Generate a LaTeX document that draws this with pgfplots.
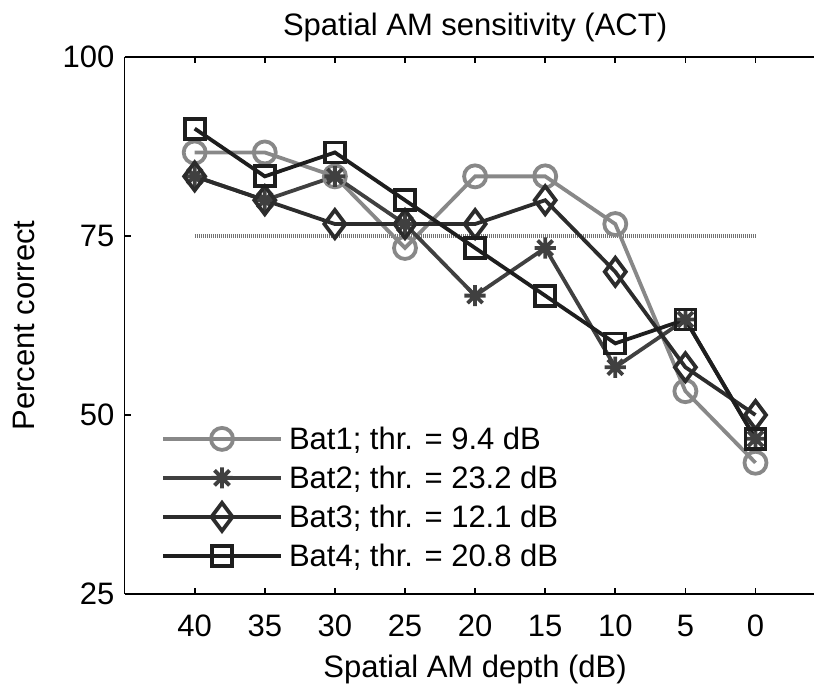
\documentclass[border=0pt]{standalone}
\usepackage{fontspec}
\setmainfont{Liberation Sans}
\usepackage{pgfplots}
\pgfplotsset{compat=1.18}
\definecolor{batA}{RGB}{136,136,136}
\definecolor{batB}{RGB}{64,64,64}
\definecolor{batC}{RGB}{44,44,44}
\definecolor{batD}{RGB}{30,30,30}
% MATLAB-style asterisk: + and x together
\pgfdeclareplotmark{ast8}{%
  \pgfpathmoveto{\pgfqpoint{0pt}{\pgfplotmarksize}}%
  \pgfpathlineto{\pgfqpoint{0pt}{-\pgfplotmarksize}}%
  \pgfpathmoveto{\pgfqpoint{\pgfplotmarksize}{0pt}}%
  \pgfpathlineto{\pgfqpoint{-\pgfplotmarksize}{0pt}}%
  \pgfpathmoveto{\pgfqpoint{.7071\pgfplotmarksize}{.7071\pgfplotmarksize}}%
  \pgfpathlineto{\pgfqpoint{-.7071\pgfplotmarksize}{-.7071\pgfplotmarksize}}%
  \pgfpathmoveto{\pgfqpoint{-.7071\pgfplotmarksize}{.7071\pgfplotmarksize}}%
  \pgfpathlineto{\pgfqpoint{.7071\pgfplotmarksize}{-.7071\pgfplotmarksize}}%
  \pgfusepathqstroke}
\begin{document}
\begin{tikzpicture}
\begin{axis}[
    scale only axis,
    width=350.5pt, height=268.5pt,
    x dir=reverse,
    xmin=-5, xmax=45, ymin=25, ymax=100,
    xtick={0,5,...,40}, ytick={25,50,75,100},
    axis x line*=box, axis y line*=left,
    tick align=inside, major tick length=3.2pt,
    axis line style={line width=0.9pt, black},
    every tick/.style={line width=0.9pt, black},
    font=\fontsize{15.5}{18}\selectfont,
    /pgf/number format/assume math mode=true,
    xticklabel style={anchor=base, yshift=-21pt},
    yticklabel style={xshift=-1.6pt},
    title={Spatial AM sensitivity (ACT)},
    title style={at={(axis description cs:0.5,1)}, anchor=base, yshift=5pt},
    xlabel={Spatial AM depth (dB)},
    xlabel style={at={(axis description cs:0.5,0)}, anchor=base, yshift=-41.5pt},
    ylabel={Percent correct},
    ylabel style={at={(axis description cs:-0.1278,0.5)}, anchor=base},
    legend cell align=left,
    legend style={draw=none, fill=none, at={(axis cs:42.26,48.2)}, anchor=north west,
                  inner sep=0pt, outer sep=0pt, row sep=8.5pt, column sep=4pt,
                  nodes={inner sep=0pt, text height=11pt, text depth=0pt}},
    legend image code/.code={%
        \draw[#1, line width=1.9pt, mark repeat=2, mark phase=2, overlay]
            plot coordinates {(0pt,0pt) (29.5pt,0pt) (59pt,0pt)};
        \path[draw=none, fill=none] (0pt,0pt) rectangle (59pt,1pt);},
    every axis plot/.append style={line width=1.9pt},
]
% 75 % criterion
\addplot[gray!90!black, line width=2pt, dash pattern=on 0.6pt off 0.4pt, forget plot]
    coordinates {(40,75) (0,75)};

\addplot[batA, mark=o, mark size=5.5pt, mark options={solid}] coordinates {
    (40,86.67) (35,86.67) (30,83.33) (25,73.33) (20,83.33) (15,83.33) (10,76.67) (5,53.33) (0,43.33)
};
\addlegendentry{Bat1; thr. = 9.4 dB}

\addplot[batB, mark=ast8, mark size=5.3pt, mark options={solid}] coordinates {
    (40,83.33) (35,80) (30,83.33) (25,76.67) (20,66.67) (15,73.33) (10,56.67) (5,63.33) (0,46.67)
};
\addlegendentry{Bat2; thr. = 23.2 dB}

\addplot[batC, mark=diamond, mark size=7pt, mark options={solid}] coordinates {
    (40,83.33) (35,80) (30,76.67) (25,76.67) (20,76.67) (15,80) (10,70) (5,56.67) (0,50)
};
\addlegendentry{Bat3; thr. = 12.1 dB}

\addplot[batD, mark=square, mark size=5pt, mark options={solid}] coordinates {
    (40,90) (35,83.33) (30,86.67) (25,80) (20,73.33) (15,66.67) (10,60) (5,63.33) (0,46.67)
};
\addlegendentry{Bat4; thr. = 20.8 dB}
\end{axis}
\pgfresetboundingbox
\useasboundingbox ([xshift=-62.3pt,yshift=-46.5pt]current axis.south west)
    rectangle ([xshift=-5.8pt,yshift=28.5pt]current axis.north east);
\end{tikzpicture}
\end{document}
